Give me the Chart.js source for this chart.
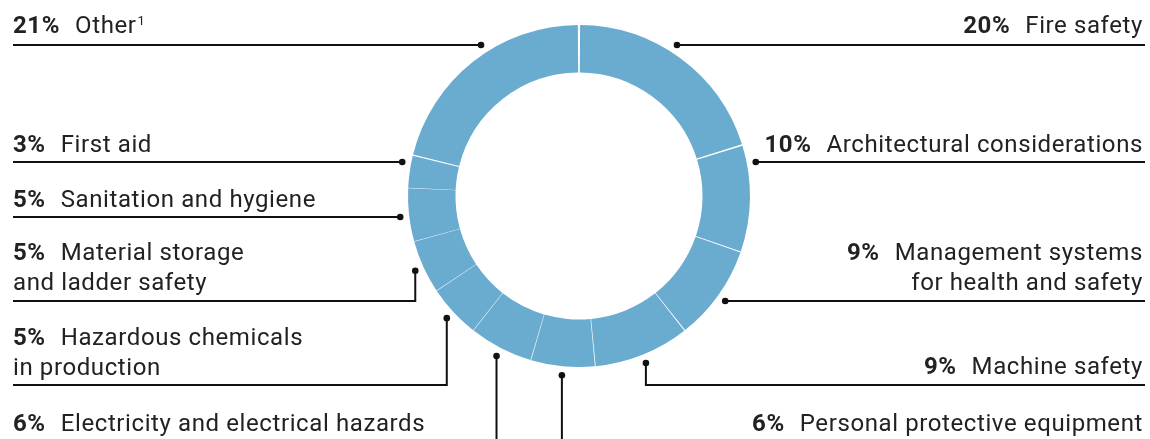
<!DOCTYPE html>
<html>
<head>
<meta charset="utf-8">
<script src="https://cdn.jsdelivr.net/npm/chart.js@4"></script>
<style>
    body { margin: 0; background: #fff; }
    #wrap { width: 1150px; height: 439px; position: relative; }
</style>
</head>
<body>
<div id="wrap"><canvas id="topicChart"></canvas></div>
<script>
// Anteile der Themen, im Uhrzeigersinn ab 12 Uhr
const categories = ['Fire safety', 'Architectural considerations', 'Management systems for health and safety',
    'Machine safety', 'Personal protective equipment', 'Electricity and electrical hazards',
    'Hazardous chemicals in production', 'Material storage and ladder safety', 'Sanitation and hygiene',
    'First aid', 'Other'];
const shares = [20, 10, 9, 9, 6, 6, 5, 5, 5, 3, 21];
const footnotes = ['', '', '', '', '', '', '', '', '', '', '1'];

// Beschriftung: Seite, Grundlinie der ersten Zeile, Umbruch nach n Wörtern, Führungslinie
const labelLayout = [
    { side: 'right', y: 33, wrap: 0, lead: 'h', lineY: 45 },
    { side: 'right', y: 152, wrap: 0, lead: 'h', lineY: 162 },
    { side: 'right', y: 260, wrap: 2, lead: 'h', lineY: 301 },
    { side: 'right', y: 374, wrap: 0, lead: 'v', lineY: 385 },
    { side: 'right', y: 431, wrap: 0, lead: 'v', lineY: 470 },
    { side: 'left', y: 431, wrap: 0, lead: 'v', lineY: 470 },
    { side: 'left', y: 345, wrap: 2, lead: 'v', lineY: 385 },
    { side: 'left', y: 260, wrap: 2, lead: 'v', lineY: 301 },
    { side: 'left', y: 207, wrap: 0, lead: 'h', lineY: 217 },
    { side: 'left', y: 152, wrap: 0, lead: 'h', lineY: 162 },
    { side: 'left', y: 33, wrap: 0, lead: 'h', lineY: 45 }
];

const LEFT_X = 13;
const RIGHT_X = 1143;
const LINE_RIGHT = 1145;
const LINE_HEIGHT = 30;
const GAP = 15;
const INK = '#222222';
const FONT = 'Roboto, "DejaVu Sans", sans-serif';

const leaderPlugin = {
    id: 'leaderLabels',
    afterDatasetsDraw(chart) {
        const ctx = chart.ctx;
        const meta = chart.getDatasetMeta(0);

        ctx.save();
        ctx.strokeStyle = '#111';
        ctx.fillStyle = '#111';
        ctx.lineWidth = 2;
        ctx.textBaseline = 'alphabetic';

        for (let i = 0; i < meta.data.length; i++) {
            const arc = meta.data[i];
            const p = arc.getProps(['x', 'y', 'startAngle', 'endAngle', 'outerRadius'], true);
            const r = p.outerRadius + 10.5;
            const lay = labelLayout[i];
            const isLeft = lay.side === 'left';

            // Punkt am Ring
            let dotX, dotY;
            if (lay.lead === 'h') {
                const dy = lay.lineY - p.y;
                dotX = p.x + (isLeft ? -1 : 1) * Math.sqrt(r * r - dy * dy);
                dotY = lay.lineY;
            } else {
                const mid = (p.startAngle + p.endAngle) / 2;
                dotX = p.x + r * Math.cos(mid);
                dotY = p.y + r * Math.sin(mid);
            }

            ctx.fillStyle = '#111';
            ctx.beginPath();
            ctx.moveTo(dotX, dotY);
            if (lay.lead === 'v') {
                ctx.lineTo(dotX, lay.lineY);
            }
            ctx.lineTo(isLeft ? LEFT_X : LINE_RIGHT, lay.lineY);
            ctx.stroke();

            ctx.beginPath();
            ctx.arc(dotX, dotY, 3.3, 0, Math.PI * 2);
            ctx.fill();

            // Text
            const words = categories[i].split(' ');
            const lines = lay.wrap ? [words.slice(0, lay.wrap).join(' '), words.slice(lay.wrap).join(' ')] : [categories[i]];
            const pct = shares[i] + '%';

            ctx.fillStyle = INK;
            ctx.letterSpacing = '0.6px';
            ctx.font = '700 24px ' + FONT;
            const pctW = ctx.measureText(pct).width;
            ctx.font = '400 24px ' + FONT;
            const firstW = ctx.measureText(lines[0]).width;
            let noteW = 0;
            if (footnotes[i]) {
                ctx.font = '400 13px ' + FONT;
                noteW = ctx.measureText(footnotes[i]).width + 1;
            }

            const startX = isLeft ? LEFT_X : RIGHT_X - firstW - noteW - GAP - pctW;
            ctx.textAlign = 'left';
            ctx.font = '700 24px ' + FONT;
            ctx.fillText(pct, startX, lay.y);
            ctx.font = '400 24px ' + FONT;
            ctx.fillText(lines[0], startX + pctW + GAP, lay.y);
            if (footnotes[i]) {
                ctx.font = '400 13px ' + FONT;
                ctx.fillText(footnotes[i], startX + pctW + GAP + firstW + 1, lay.y - 8);
            }
            if (lines.length > 1) {
                ctx.font = '400 24px ' + FONT;
                ctx.textAlign = isLeft ? 'left' : 'right';
                ctx.fillText(lines[1], isLeft ? LEFT_X : RIGHT_X, lay.y + LINE_HEIGHT);
            }
        }
        ctx.restore();
    }
};

const ctxTopics = document.getElementById('topicChart').getContext('2d');
new Chart(ctxTopics, {
    type: 'doughnut',
    data: {
        labels: categories,
        datasets: [{
            data: shares,
            backgroundColor: '#6aabd0',
            borderWidth: 0,
            spacing: 3
        }]
    },
    options: {
        responsive: true,
        maintainAspectRatio: false,
        animation: false,
        cutout: '72%',
        layout: {
            padding: { left: 408, right: 400, top: 25, bottom: 72 }
        },
        plugins: {
            legend: { display: false },
            tooltip: { enabled: false }
        }
    },
    plugins: [leaderPlugin]
});
</script>
</body>
</html>
